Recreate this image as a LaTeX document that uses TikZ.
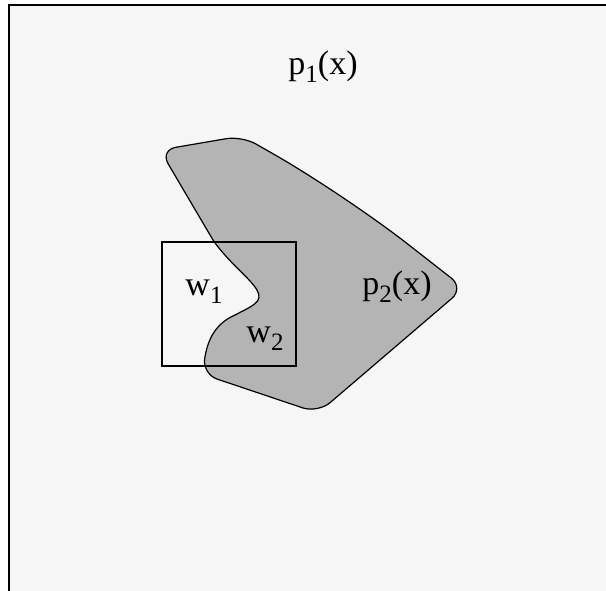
\documentclass[tikz,border=0pt]{standalone}
\usepackage{fontspec}
\setmainfont{Liberation Serif}
\usepackage{tikz}
\usetikzlibrary{positioning}
\definecolor{fondo}{RGB}{246,246,246}
\definecolor{mancha}{RGB}{180,180,180}
\newcommand{\sub}[1]{\raisebox{-0.24em}{\fontsize{25}{25}\selectfont #1}}
\tikzset{
  marco/.style={draw=black, line width=2pt, fill=fondo},
  region/.style={draw=black, line width=1.2pt, fill=mancha},
  ventana/.style={draw=black, line width=1.2pt},
  etq/.style={font=\fontsize{34}{38}\selectfont, inner sep=0pt},
}

\begin{document}
\begin{tikzpicture}[x=1pt, y=-1pt]
  \useasboundingbox (0,0) rectangle (606,590);
  \fill[white] (0,0) rectangle (606,590);
  \clip (0,0) rectangle (606,590);
  \draw[marco] (9,5) rectangle (640,620);
  % p2 region
  \draw[region] (213,240) [rounded corners=16pt] -- (160,150) -- (242,136)
    [rounded corners=80pt] -- (345,195) [rounded corners=16pt] -- (464,288)
    -- (318,413) -- (202,374) [sharp corners]
    .. controls (207,345) and (212,325) .. (235,315)
    .. controls (252,306) and (264,302) .. (257,290)
    .. controls (250,278) and (228,262) .. (213,240) -- cycle;
  % window
  \draw[ventana] (162,242) rectangle (296,366);
  \node[etq] (pone) at (323,67) {p\sub{1}(x)};
  \node[etq] (ptwo) at (397,287) {p\sub{2}(x)};
  \node[etq] (wone) at (204,292) {w\sub{1}};
  \node[etq] (wtwo) at (265,339) {w\sub{2}};
\end{tikzpicture}
\end{document}
